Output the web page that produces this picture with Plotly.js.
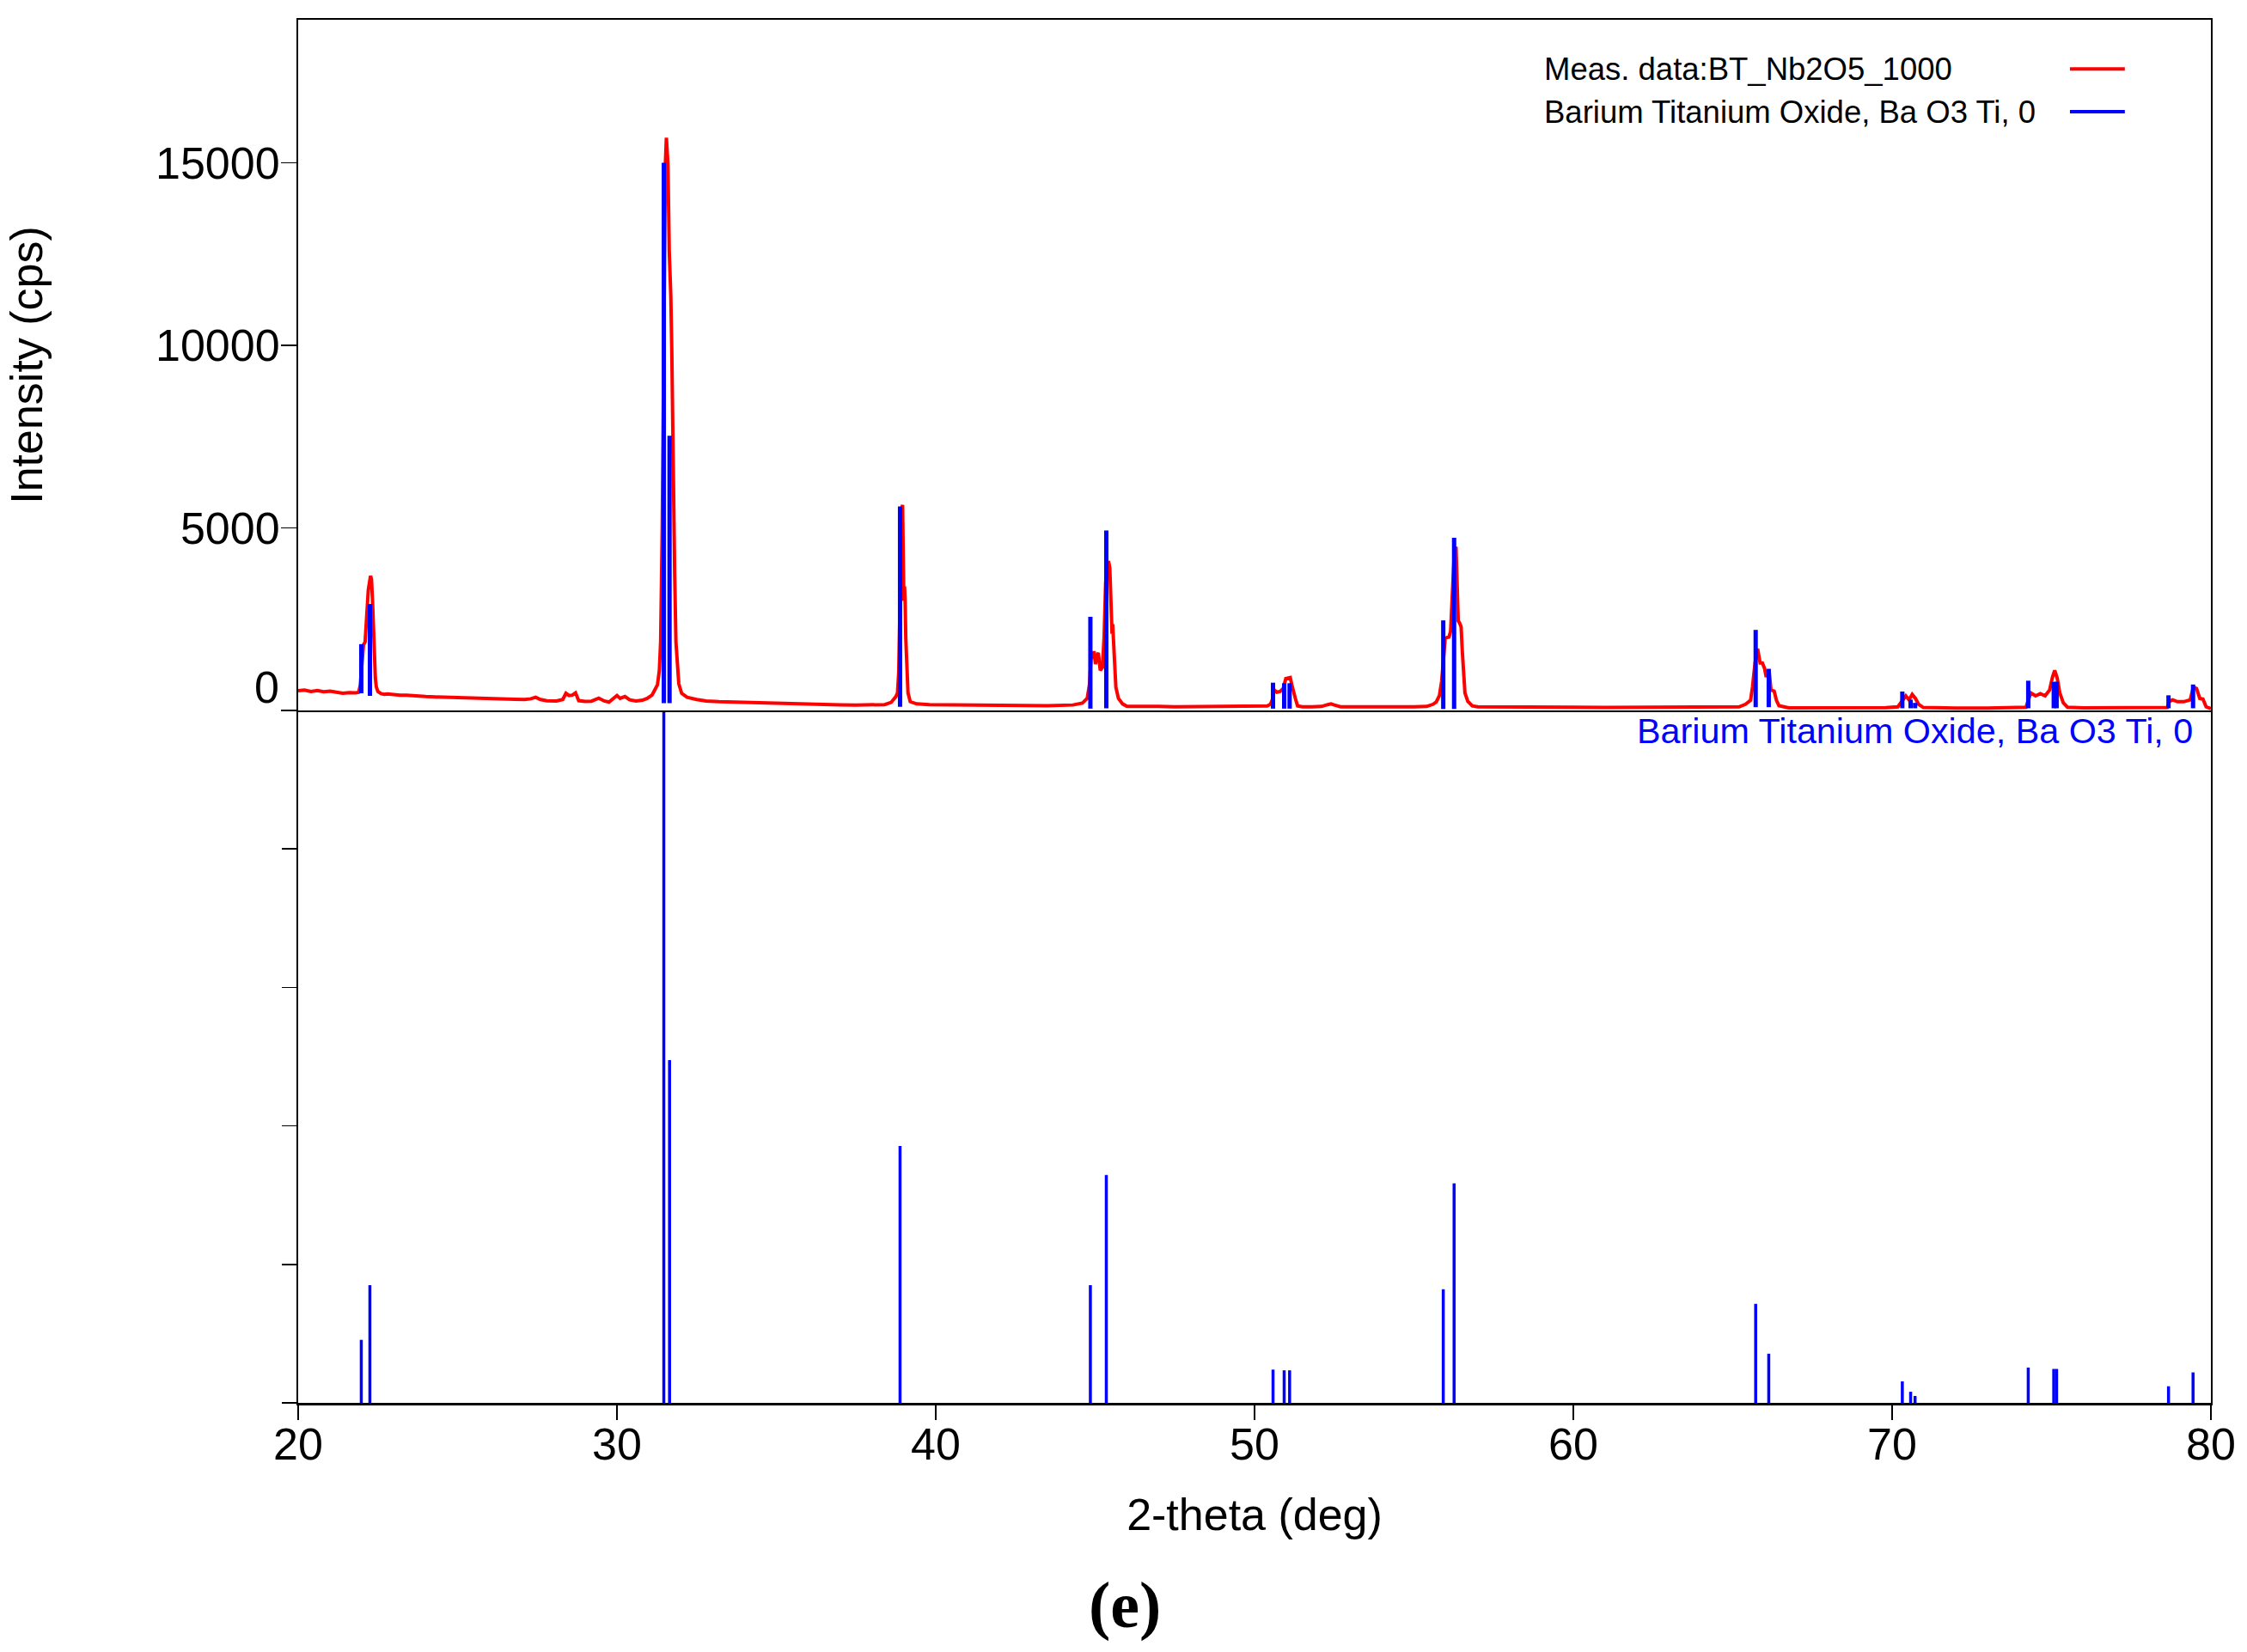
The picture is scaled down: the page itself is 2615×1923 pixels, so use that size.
<!DOCTYPE html>
<html>
<head>
<meta charset="utf-8">
<script src="https://cdn.plot.ly/plotly-3.0.1.min.js"></script>
<style>
  html, body { margin: 0; padding: 0; background: #fff; }
  #myDiv { width: 2615px; height: 1923px; }
</style>
</head>
<body>
<div id="myDiv"></div>
<script>
'use strict'

const meas2theta = [
  20.0, 20.2, 20.4, 20.6, 20.8, 21.0, 21.2, 21.4, 21.6, 21.8, 21.9,
  21.95, 22.0, 22.05, 22.1, 22.15, 22.2, 22.27, 22.3, 22.33, 22.36, 22.39, 22.42, 22.45, 22.5,
  22.6, 22.7, 22.8, 23.0, 23.2, 23.4, 23.6, 23.8, 24.0, 24.3, 24.6, 25.0, 25.3, 25.6, 26.0,
  26.4, 26.8, 27.1, 27.3, 27.45, 27.6, 27.8, 28.1, 28.3, 28.4, 28.5, 28.6, 28.7, 28.8,
  29.0, 29.2, 29.43, 29.6, 29.75, 29.9, 30.0, 30.1, 30.25, 30.4, 30.6, 30.8, 30.95,
  31.1, 31.2, 31.27, 31.33, 31.37, 31.42, 31.47, 31.52, 31.55, 31.6, 31.64, 31.69, 31.72,
  31.74, 31.78, 31.81, 31.85, 31.9, 31.94, 32.03, 32.2, 32.5, 32.8, 33.2, 33.6, 34.0, 34.5,
  35.0, 35.5, 36.0, 36.5, 37.0, 37.5, 38.0, 38.4, 38.6, 38.75, 38.8, 38.84, 38.88, 38.92,
  38.96, 38.98, 39.0, 39.02, 39.04, 39.06, 39.09, 39.13, 39.2, 39.4, 39.8, 40.5, 41.5, 42.5,
  43.5, 44.3, 44.6, 44.75, 44.82, 44.87, 44.92, 44.97, 45.01, 45.06, 45.1, 45.16, 45.23,
  45.28, 45.33, 45.38, 45.42, 45.46, 45.5, 45.53, 45.55, 45.6, 45.65, 45.73, 45.86, 46.0,
  46.5, 47.0, 47.5, 48.0, 48.5, 49.0, 49.5, 50.0, 50.4, 50.5, 50.56, 50.62, 50.7, 50.8,
  50.9, 50.98, 51.05, 51.12, 51.17, 51.22, 51.28, 51.35, 51.5, 51.8, 52.1, 52.3, 52.4, 52.5,
  52.7, 53.0, 53.5, 54.0, 54.5, 55.0, 55.4, 55.6, 55.7, 55.8, 55.87, 55.93, 55.98, 56.05,
  56.1, 56.15, 56.2, 56.27, 56.32, 56.36, 56.39, 56.43, 56.48, 56.52, 56.56, 56.6, 56.69,
  56.83, 57.0, 57.5, 58.0, 59.0, 60.0, 61.0, 62.0, 63.0, 64.0, 64.8, 65.2, 65.4, 65.56,
  65.62, 65.7, 65.78, 65.83, 65.86, 65.93, 66.0, 66.05, 66.1, 66.14, 66.2, 66.3, 66.37,
  66.45, 66.76, 67.5, 68.0, 69.0, 69.8, 70.18, 70.3, 70.43, 70.53, 70.63, 70.73, 70.83,
  70.98, 71.5, 72.0, 73.0, 74.0, 74.2, 74.28, 74.35, 74.5, 74.65, 74.8, 74.94, 75.03, 75.1,
  75.18, 75.26, 75.37, 75.5, 76.0, 77.0, 78.0, 78.5, 78.63, 78.7, 78.8, 78.95, 79.15, 79.35,
  79.45, 79.55, 79.65, 79.75, 79.85, 80.0
];
const measCps = [
  540, 560, 520, 545, 510, 530, 500, 470, 490, 480, 500,
  700, 1270, 1800, 1880, 2570, 3300, 3690, 3600, 3050, 2200, 1500, 900, 650, 520,
  460, 440, 450, 430, 420, 416, 400, 390, 380, 370, 360, 345, 340, 330, 320,
  310, 305, 300, 320, 360, 300, 265, 260, 300, 470, 410, 420, 480, 270,
  250, 255, 337, 260, 230, 350, 410, 330, 380, 290, 260, 280, 330,
  420, 560, 700, 1100, 1880, 5000, 11000, 15000, 15690, 14960, 12590, 11340, 9860,
  8190, 5670, 3770, 1880, 1150, 730, 470, 360, 300, 260, 240, 230, 210, 200,
  190, 175, 170, 160, 155, 150, 150, 160, 220, 380, 480, 1060, 3000, 5500,
  5630, 4000, 3000, 3400, 3000, 1980, 950, 480, 240, 180, 160, 150, 140, 135,
  130, 150, 200, 330, 700, 1400, 1580, 1580, 1270, 1500, 1580, 1100, 1180,
  1990, 3500, 4000, 4090, 3900, 2400, 2100, 2360, 1270, 635, 330, 180, 110,
  120, 110, 100, 105, 100, 100, 100, 105, 125, 173, 300, 560, 500, 520,
  600, 870, 880, 900, 700, 480, 330, 125, 100, 100, 110, 160, 180, 150,
  100, 100, 95, 95, 95, 100, 110, 170, 230, 410, 800, 1400, 1970, 2000,
  2010, 2170, 3000, 4400, 4480, 3500, 2450, 2400, 2290, 1580, 870, 480, 250,
  125, 100, 95, 95, 90, 90, 85, 85, 80, 80, 85, 100, 170, 280,
  640, 1300, 1690, 1500, 1300, 1300, 1150, 915, 1050, 1110, 560, 530, 280,
  130, 70, 70, 65, 65, 75, 100, 250, 400, 290, 440, 330, 170,
  80, 70, 65, 65, 70, 90, 300, 480, 400, 460, 400, 560, 910, 1100,
  880, 480, 210, 90, 70, 70, 70, 75, 80, 250, 290, 240, 240, 290,
  640, 600, 330, 310, 100, 50
];

// reference pattern sticks (Barium Titanium Oxide), relative intensity in %
const stick2theta = [21.98, 22.25, 31.47, 31.65, 38.88, 44.85, 45.35, 50.58, 50.93, 51.1,
  55.92, 56.26, 65.72, 66.13, 70.32, 70.58, 70.72, 74.27, 75.07, 75.16, 78.67, 79.44];
const stickRel = [9.1, 17.0, 100, 49.5, 37.1, 17.0, 32.9, 4.8, 4.7, 4.7,
  16.4, 31.7, 14.3, 7.1, 3.1, 1.6, 1.0, 5.1, 4.9, 4.9, 2.4, 4.4];
// background under each stick in the upper panel (cps)
const stickBase = [470, 400, 200, 200, 100, 50, 60, 50, 50, 50,
  40, 40, 90, 90, 60, 60, 60, 60, 60, 60, 60, 60];
const cpsPerPercent = 148;

const xTicks = [20, 30, 40, 50, 60, 70, 80];
const yTicks = [0, 5000, 10000, 15000];
const yTickText = ['', '5000', '10000', '15000'];
const relTicks = [0, 20, 40, 60, 80, 100];

const measName = 'Meas. data:BT_Nb2O5_1000';
const refName = 'Barium Titanium Oxide, Ba O3 Ti, 0';

// build stick segments (x,x,null) for the line traces
let topX = [], topY = [], botX = [], botY = [];
for (let i = 0; i < stick2theta.length; i++) {
    topX.push(stick2theta[i], stick2theta[i], null);
    topY.push(stickBase[i], stickBase[i] + stickRel[i] * cpsPerPercent, null);
    botX.push(stick2theta[i], stick2theta[i], null);
    botY.push(0, stickRel[i], null);
}

const FONT = 'Liberation Sans, Arial, sans-serif';

let traceMeas = {
    x: meas2theta, y: measCps,
    xaxis: 'x2', yaxis: 'y',
    type: 'scatter', mode: 'lines',
    line: {color: '#ff0000', width: 4},
    hoverinfo: 'skip'
};
let traceTopSticks = {
    x: topX, y: topY,
    xaxis: 'x2', yaxis: 'y',
    type: 'scatter', mode: 'lines',
    line: {color: '#0000ff', width: 5},
    hoverinfo: 'skip'
};
let traceBotSticks = {
    x: botX, y: botY,
    xaxis: 'x', yaxis: 'y2',
    type: 'scatter', mode: 'lines',
    line: {color: '#0000ff', width: 3.5},
    hoverinfo: 'skip'
};

let data = [traceMeas, traceTopSticks, traceBotSticks];

const split = 806 / 1610; // lower panel share of plot height

let layout = {
    width: 2615, height: 1923,
    margin: {l: 347, r: 42, t: 23, b: 290},
    paper_bgcolor: '#ffffff',
    plot_bgcolor: '#ffffff',
    showlegend: false,
    font: {family: FONT, size: 52, color: '#000'},
    xaxis: {
        range: [20, 80], anchor: 'y2',
        tickvals: xTicks, ticks: 'outside', ticklen: 17, tickwidth: 1.5, tickcolor: '#000',
        ticklabelstandoff: -16,
        showline: true, linecolor: '#000', linewidth: 2.5,
        showgrid: false, zeroline: false,
        tickfont: {family: FONT, size: 52},
        title: {text: '2-theta (deg)', font: {family: FONT, size: 52}, standoff: 36}
    },
    xaxis2: {
        range: [20, 80], anchor: 'y', matches: 'x',
        showline: true, mirror: true, linecolor: '#000', linewidth: 2,
        ticks: '', showticklabels: false,
        showgrid: false, zeroline: false
    },
    yaxis: {
        domain: [split, 1], range: [0, 18920],
        tickvals: yTicks, ticktext: yTickText,
        ticks: 'outside', ticklen: 18, tickwidth: 1.5, tickcolor: '#000',
        ticklabelstandoff: -9,
        showline: true, mirror: true, linecolor: '#000', linewidth: 2,
        showgrid: false, zeroline: false,
        tickfont: {family: FONT, size: 52},
        title: {text: 'Intensity (cps)', font: {family: FONT, size: 52}, standoff: 115}
    },
    yaxis2: {
        domain: [0, split], range: [0, 100],
        tickvals: relTicks, ticks: 'outside', ticklen: 17, tickwidth: 1.5, tickcolor: '#000',
        showticklabels: false,
        showline: true, mirror: true, linecolor: '#000', linewidth: 2,
        showgrid: false, zeroline: false
    },
    annotations: [
        // the zero label sits a little above its tick
        {xref: 'paper', yref: 'y', x: 0, y: 640, xanchor: 'right', yanchor: 'middle',
         xshift: -20, text: '0', showarrow: false, font: {family: FONT, size: 52}},
        // legend, text left and line to the right
        {xref: 'paper', yref: 'paper', x: 0.6505, y: 0.9645, xanchor: 'left', yanchor: 'middle',
         text: measName, showarrow: false, font: {family: FONT, size: 36.5, color: '#000'}},
        {xref: 'paper', yref: 'paper', x: 0.6505, y: 0.9335, xanchor: 'left', yanchor: 'middle',
         text: refName, showarrow: false, font: {family: FONT, size: 36.5, color: '#000'}},
        // phase label in lower panel
        {xref: 'paper', yref: 'paper', x: 0.9915, y: 0.4857, xanchor: 'right', yanchor: 'middle',
         text: refName, showarrow: false, font: {family: FONT, size: 41.3, color: '#0000ff'}},
        // panel letter
        {xref: 'paper', yref: 'paper', x: 0.432, y: -0.146, xanchor: 'center', yanchor: 'middle',
         text: '<b>(e)</b>', showarrow: false,
         font: {family: 'Liberation Serif, Times New Roman, serif', size: 76, color: '#000'}}
    ],
    shapes: [
        {type: 'line', xref: 'paper', yref: 'paper', x0: 0.9263, x1: 0.955, y0: 0.9645, y1: 0.9645,
         line: {color: '#ff0000', width: 4}},
        {type: 'line', xref: 'paper', yref: 'paper', x0: 0.9263, x1: 0.955, y0: 0.9335, y1: 0.9335,
         line: {color: '#0000ff', width: 4}}
    ]
};

Plotly.newPlot('myDiv', data, layout, {displayModeBar: false, staticPlot: true});
</script>
</body>
</html>
